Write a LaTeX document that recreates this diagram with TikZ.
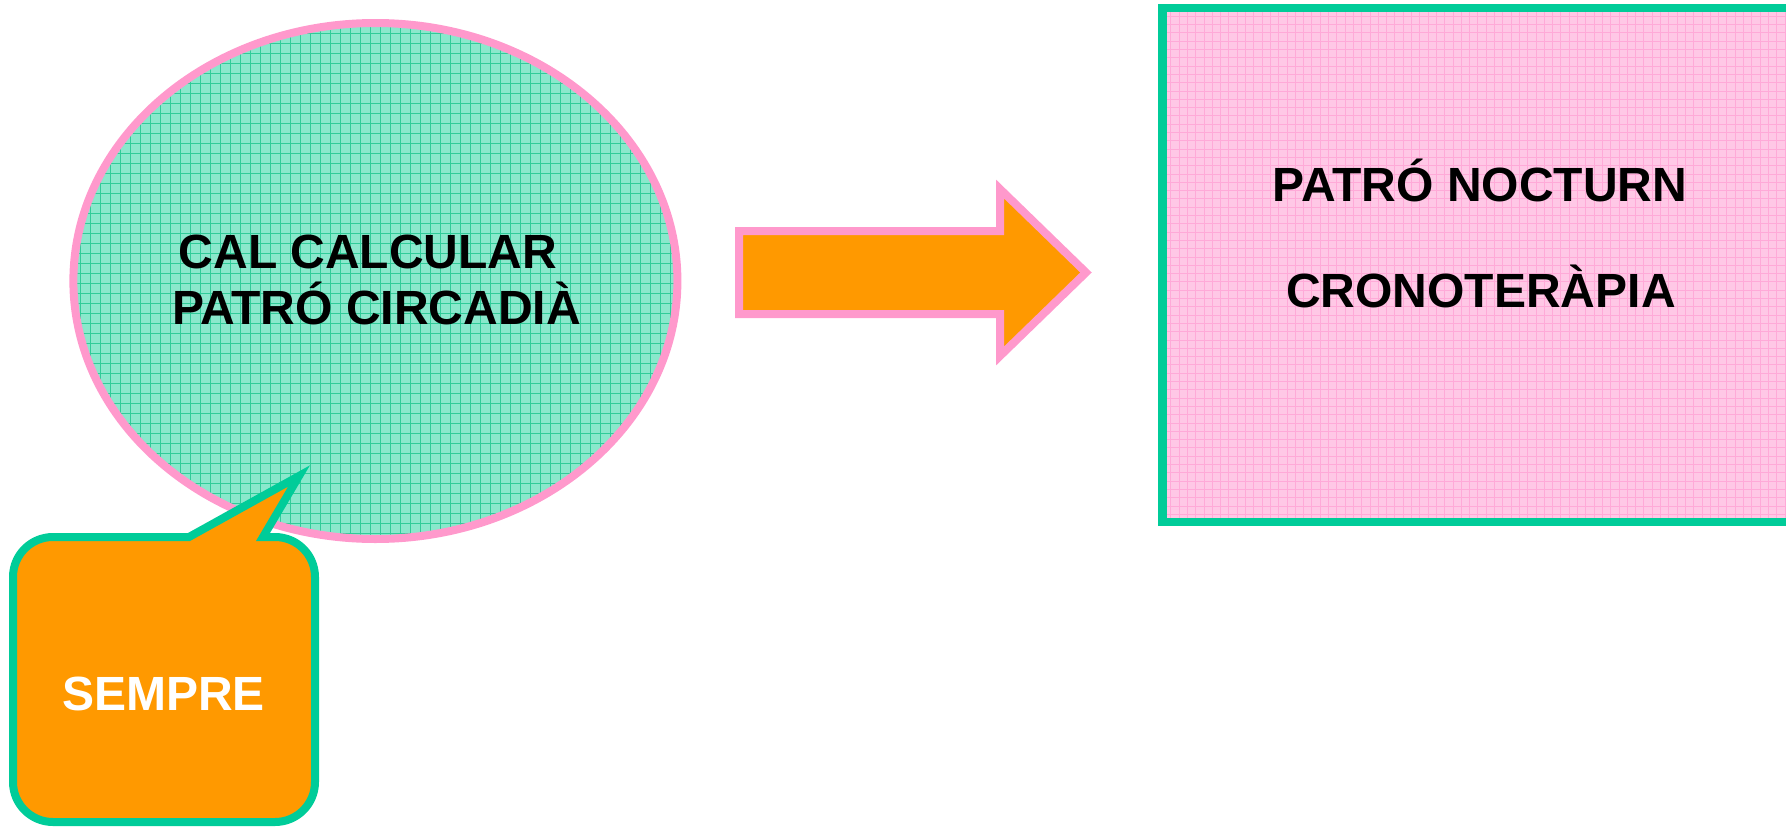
\documentclass[tikz,border=0pt]{standalone}
\usepackage{fontspec}
\setmainfont{Liberation Sans}
\definecolor{ellfill}{RGB}{138,232,204}
\definecolor{ellgrid}{RGB}{48,204,153}
\definecolor{pinkline}{RGB}{255,153,204}
\definecolor{orangefill}{RGB}{255,153,0}
\definecolor{greenline}{RGB}{0,204,153}
\definecolor{rectfill}{RGB}{255,200,230}
\definecolor{rectgrid}{RGB}{255,170,216}
\tikzset{
  lbl/.style={font=\bfseries\fontsize{48}{58}\selectfont, inner sep=0pt, anchor=base},
  gridline/.style={line width=1pt},
}
\begin{document}
\begin{tikzpicture}[x=1pt,y=-1pt]
\useasboundingbox (0,0) rectangle (1786,827);
\clip (0,0) rectangle (1786,827);
% ellipse
\begin{scope}
  \clip (375.4,281) ellipse [x radius=302, y radius=258];
  \fill[ellfill] (60,10) rectangle (700,560);
  \foreach \x in {70,80,...,690} \draw[ellgrid,gridline] (\x,15) -- (\x,550);
  \foreach \y in {23,33,...,543} \draw[ellgrid,gridline] (65,\y) -- (690,\y);
\end{scope}
\draw[pinkline, line width=8pt] (375.4,281) ellipse [x radius=302, y radius=258];
\coordinate (ellc) at (375.4,281);
% arrow
\draw[pinkline, fill=orangefill, line width=8pt, line join=miter]
  (739,231) -- (1000,231) -- (1000,189) -- (1086,272.5) -- (1000,356) -- (1000,314) -- (739,314) -- cycle;
% rectangle
\begin{scope}
  \clip (1162.5,8) rectangle (1800,522);
  \fill[rectfill] (1162.5,8) rectangle (1800,522);
  \foreach \x in {1170.8,1179.1,...,1795} \draw[rectgrid,gridline] (\x,8) -- (\x,522);
  \foreach \y in {16.3,24.6,...,522} \draw[rectgrid,gridline] (1162,\y) -- (1800,\y);
\end{scope}
\draw[greenline, line width=8.3pt] (1800,8) -- (1162.5,8) -- (1162.5,522) -- (1800,522);
% callout
\draw[greenline, fill=orangefill, line width=8pt, line join=miter]
  (189,537) -- (299,476) -- (263,537) -- (275,537)
  arc[start angle=-90, end angle=0, radius=40] -- (315,782)
  arc[start angle=0, end angle=90, radius=40] -- (53,822)
  arc[start angle=90, end angle=180, radius=40] -- (13,577)
  arc[start angle=180, end angle=270, radius=40] -- cycle;
% texts
\node[lbl] (t1) at (368,268) {CAL CALCULAR};
\node[lbl] (t2) at (376.5,324) {PATRÓ CIRCADIÀ};
\node[lbl] (t3) at (1480,201.5) {PATRÓ NOCTURN};
\node[lbl] (t4) at (1481,307) {CRONOTERÀPIA};
\node[lbl, text=white] (t5) at (163.5,710) {SEMPRE};
\end{tikzpicture}
\end{document}
